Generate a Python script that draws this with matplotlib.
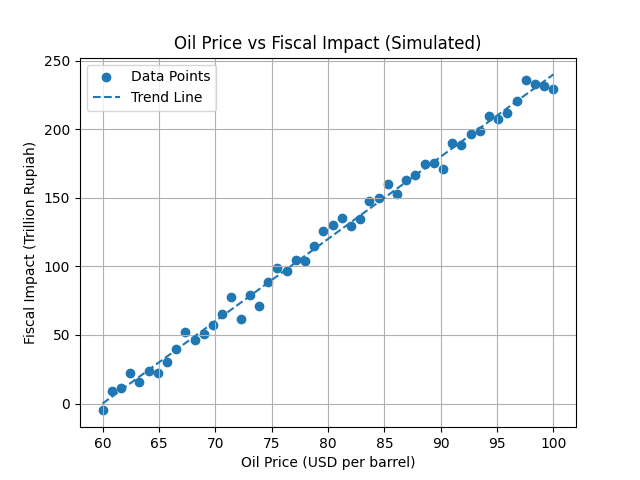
import numpy as np
import matplotlib
matplotlib.use("Agg")
import matplotlib.pyplot as plt

oil_price = np.linspace(60, 100, 50)
fiscal_impact = [-5, 9, 11, 22.5, 16, 24, 22, 30, 39.5, 52,
                 46, 51, 57.5, 65, 78, 62, 79, 71, 88.5, 98.5,
                 96.5, 105, 104, 115, 126, 130, 135, 129.5, 134.5, 148,
                 150, 160, 153, 163, 166.5, 175, 175.5, 171, 190, 188.5,
                 196.5, 198.5, 209.5, 207.5, 211.5, 220.5, 236, 233, 231.5, 229]
trend_x = [60, 100]
trend_y = [0, 240]

fig, ax = plt.subplots(figsize=(6.4, 4.8), dpi=100)
ax.scatter(oil_price, fiscal_impact, label="Data Points")
ax.plot(trend_x, trend_y, linestyle="--", label="Trend Line")
ax.set_title("Oil Price vs Fiscal Impact (Simulated)")
ax.set_xlabel("Oil Price (USD per barrel)")
ax.set_ylabel("Fiscal Impact (Trillion Rupiah)")
ax.legend()
ax.grid(True)
fig.savefig("out.png")
